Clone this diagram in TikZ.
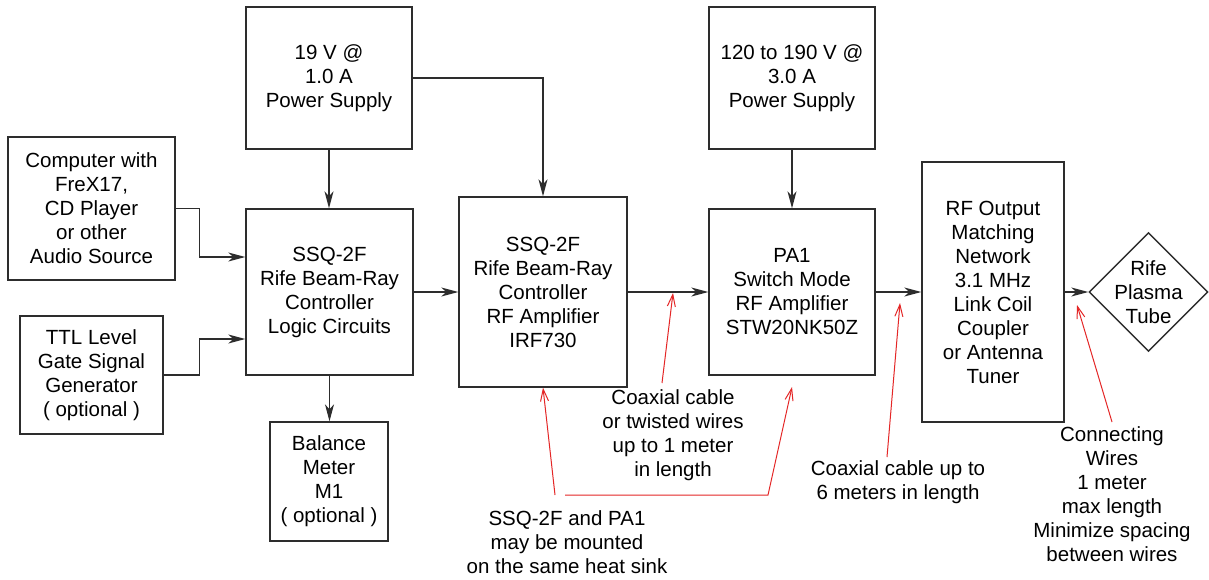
\documentclass[tikz,border=0pt]{standalone}
\usepackage{fontspec}
\setmainfont{Liberation Sans}
\usetikzlibrary{arrows.meta,shapes.geometric}
\definecolor{myred}{RGB}{228,38,38}
\definecolor{myline}{RGB}{45,45,45}
\begin{document}
\begin{tikzpicture}[x=1pt,y=-1pt,
  txt/.style={align=center, font=\fontsize{20.5}{24}\selectfont},
  blk/.style={txt, draw=myline, line width=1.4pt, inner sep=0pt},
  conn/.style={myline, line width=1.2pt, -{Stealth[length=17pt,width=9pt,inset=5pt]}},
  redarr/.style={myred, line width=1pt, -{Straight Barb[length=12pt,width=8pt]}},
  note/.style={txt, inner sep=0pt}
]
\useasboundingbox[fill=white] (0,0) rectangle (1209,579);

% blocks
\node[blk, minimum width=167pt, minimum height=143pt] (comp) at (91.5,208.5) {Computer with\\FreX17,\\CD Player\\or other\\Audio Source};
\node[blk, minimum width=143pt, minimum height=118pt] (ttl) at (91.5,375) {TTL Level\\Gate Signal\\Generator\\( optional )};
\node[blk, minimum width=167pt, minimum height=166pt] (logic) at (329.5,292) {SSQ-2F\\Rife Beam-Ray\\Controller\\Logic Circuits};
\node[blk, minimum width=166pt, minimum height=142pt] (ps19) at (329,78) {19 V @\\1.0 A\\Power Supply};
\node[blk, minimum width=118pt, minimum height=119pt] (bal) at (329,481.5) {Balance\\Meter\\M1\\( optional )};
\node[blk, minimum width=168pt, minimum height=190pt] (rfamp) at (543,292) {SSQ-2F\\Rife Beam-Ray\\Controller\\RF Amplifier\\IRF730};
\node[blk, minimum width=166pt, minimum height=142pt] (ps120) at (792,78) {120 to 190 V @\\3.0 A\\Power Supply};
\node[blk, minimum width=166pt, minimum height=166pt] (pa1) at (792,292) {PA1\\Switch Mode\\RF Amplifier\\STW20NK50Z};
\node[blk, minimum width=142pt, minimum height=260pt] (rfout) at (993,292) {RF Output\\Matching\\Network\\3.1 MHz\\Link Coil\\Coupler\\or Antenna\\Tuner};
\node[blk, diamond, minimum width=119pt, minimum height=119pt,
      label={[txt]center:Rife\\Plasma\\Tube}] (tube) at (1148.5,292) {};

% black connectors
\draw[conn] (comp.east) -- ++(24,0) |- ([yshift=35pt]logic.west);
\draw[conn] (ttl.east) -- ++(36,0) |- ([yshift=-47pt]logic.west);
\draw[conn] (ps19.south) -- (ps19.south |- logic.north);
\draw[conn] (ps19.east) -| (rfamp.north);
\draw[conn] (logic.east) -- (rfamp.west);
\draw[conn] (rfamp.east) -- (pa1.west);
\draw[conn] (ps120.south) -- (pa1.north);
\draw[conn] (pa1.east) -- (pa1.east -| rfout.west);
\draw[conn] (rfout.east |- tube.west) -- (tube.west);
\draw[conn] (logic.south) -- (logic.south |- bal.north);

% notes
\node[note] (heat) at (567,542) {SSQ-2F and PA1\\may be mounted\\on the same heat sink};
\node[note] (coaxa) at (673,435) {Coaxial cable\\or twisted wires\\up to 1 meter\\in length};
\node[note] (coaxb) at (898,482.5) {Coaxial cable up to\\6 meters in length};
\node[note] (wires) at (1112,494) {Connecting\\Wires\\1 meter\\max length\\Minimize spacing\\between wires};

% red pointer coordinates
\coordinate (h1) at (555,495);
\coordinate (h2) at (565,495);
\coordinate (hbend) at (768,495);
\coordinate (patip) at (792,387);
\coordinate (ca0) at (662,383);
\coordinate (ca1) at (673,293);
\coordinate (cb0) at (887,457);
\coordinate (cb1) at (900,303);
\coordinate (w0) at (1112,422);
\coordinate (w1) at (1077,305);

% red pointers
\draw[redarr] (h1) -- (rfamp.south);
\draw[redarr] (h2) -- (hbend) -- (patip);
\draw[redarr] (ca0) -- (ca1);
\draw[redarr] (cb0) -- (cb1);
\draw[redarr] (w0) -- (w1);
\end{tikzpicture}
\end{document}
